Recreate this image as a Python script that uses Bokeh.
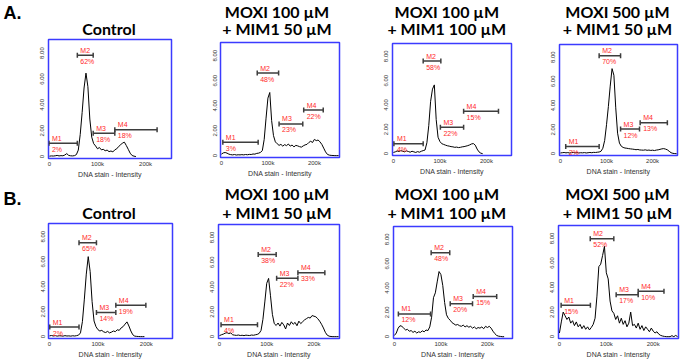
import numpy as np
from bokeh.plotting import figure
from bokeh.layouts import column, row
from bokeh.models import FixedTicker, Range1d, ColumnDataSource
from bokeh.embed import file_html
from bokeh.resources import INLINE
from bokeh.core.properties import value

N = None

# ---------------- data ----------------
BIN_K = [0, 4, 8, 12, 16, 20, 24, 28, 32, 36, 40, 44, 48, 52, 56, 60,
         64, 68, 72, 76, 80, 84, 88, 92, 96, 100, 104, 108, 112, 116, 120, 124,
         128, 132, 136, 140, 144, 148, 152, 156, 160, 164, 168, 172, 176, 180, 184, 188,
         192, 196, 200, 204, 208, 212, 216, 220, 224, 228, 232, 236, 240, 244, 248, 252]

X_TICKS = [0, 100000, 200000]
X_TICK_LABELS = ["0", "100k", "200k"]
Y_TICKS = [0, 2000, 4000, 6000, 8000]
Y_TICK_LABELS = ["0", "2.00", "4.00", "6.00", "8.00"]
X_LABEL = "DNA stain - Intensity"
GATE_NAMES = ["M1", "M2", "M3", "M4"]
ROW_LETTERS = ["A.", "B."]
TITLES = [["Control"],
          ["MOXI 100 µM", "+ MIM1 50 µM"],
          ["MOXI 100 µM", "+ MIM1 100 µM"],
          ["MOXI 500 µM", "+ MIM1 50 µM"]]

COUNTS_A1 = [30, 50, 40, 60, 90, 50, 70, 60,
             120, 230, 90, 60, 50, 70, 150, 500,
             1700, 3400, 5300, 6450, 5400, 2900, 1500, 1000,
             820, 600, 700, 520, 560, 450, 500, 380,
             430, 360, 520, 600, 780, 900, 1050, 1110,
             850, 560, 260, 80, 30, 0, N, N,
             N, N, N, N, N, N, N, N,
             N, N, N, N, N, N, N, N]
COUNTS_A2 = [120, 220, 250, 200, 120, 80, 60, 90,
             50, 70, 60, 80, 60, 90, 70, 100,
             90, 130, 120, 180, 200, 260, 400, 1300,
             3000, 4600, 5050, 2800, 1600, 1100, 950, 820,
             900, 760, 880, 800, 930, 760, 850, 700,
             820, 780, 720, 680, 780, 860, 900, 1050,
             1150, 1050, 1300, 1200, 1250, 1100, 900, 600,
             300, 100, 40, 20, 10, 0, 0, 0]
COUNTS_A3 = [100, 150, 220, 180, 250, 200, 150, 230,
             180, 120, 200, 150, 100, 170, 120, 200,
             250, 300, 900, 2300, 4300, 5300, 5650, 2800,
             1350, 1000, 820, 760, 700, 650, 620, 580,
             560, 520, 540, 500, 520, 560, 580, 620,
             660, 720, 800, 830, 700, 380, 150, 40,
             0, N, N, N, N, N, N, N,
             N, N, N, N, N, N, N, N]
COUNTS_A4 = [60, 80, 100, 70, 90, 60, 80, 100,
             70, 90, 60, 80, 70, 90, 60, 80,
             100, 80, 110, 100, 120, 140, 200, 450,
             1100, 2400, 3900, 5600, 7050, 6500, 3800, 1700,
             880, 620, 520, 470, 450, 420, 400, 380,
             360, 330, 350, 310, 300, 290, 320, 280,
             300, 270, 290, 260, 300, 320, 360, 400,
             420, 380, 320, 200, 80, 30, 10, 0]
COUNTS_B1 = [60, 90, 50, 80, 40, 70, 60, 40,
             80, 50, 60, 40, 70, 50, 80, 120,
             300, 1200, 3000, 5000, 6400, 5200, 2800, 1250,
             800, 560, 450, 500, 380, 330, 420, 300,
             360, 450, 400, 550, 500, 700, 800, 1000,
             1180, 850, 450, 150, 40, 20, 10, 0,
             0, 0, N, N, N, N, N, N,
             N, N, N, N, N, N, N, N]
COUNTS_B2 = [80, 150, 200, 280, 320, 250, 300, 150,
             120, 100, 130, 90, 110, 80, 120, 100,
             90, 130, 110, 150, 180, 260, 500, 1400,
             2800, 4300, 4700, 3300, 1800, 1050, 900, 1100,
             850, 1150, 950, 620, 1100, 900, 1200, 1000,
             1150, 880, 1250, 1050, 1200, 1350, 1450, 1550,
             1500, 1700, 1650, 1600, 1450, 1250, 1000, 700,
             350, 120, 40, 10, 0, 0, 0, 0]
COUNTS_B3 = [100, 300, 700, 900, 850, 700, 550, 600,
             450, 500, 350, 450, 300, 400, 350, 480,
             400, 550, 500, 800, 1600, 3200, 3600, 4500,
             5350, 5100, 4200, 2800, 1800, 1500, 1350, 1150,
             1050, 950, 1000, 900, 850, 950, 800, 900,
             780, 850, 700, 800, 650, 750, 700, 800,
             650, 850, 750, 850, 700, 450, 250, 100,
             40, 20, 0, 0, N, N, N, N]
COUNTS_B4 = [300, 1200, 2000, 1700, 1400, 1600, 1100, 1300,
             900, 1200, 800, 1000, 650, 900, 600, 800,
             550, 750, 1000, 1500, 3300, 5700, 5900, 6600,
             7350, 5200, 4700, 2900, 2100, 1900, 1400, 1700,
             1100, 1500, 1000, 1300, 800, 1100, 2000, 900,
             1000, 700, 1100, 600, 900, 500, 800, 600,
             400, 700, 450, 300, 400, 200, 100, 50,
             20, 0, 0, 0, 80, 0, 100, 0]

# gates: start / end (k units), level (counts), percentage
GATE_START_A1 = [-1, 58, 91, 136]
GATE_END_A1 = [58, 91, 136, 224]
GATE_LEVEL_A1 = [1030, 7830, 1810, 2070]
GATE_PCT_A1 = ["2%", "62%", "18%", "18%"]

GATE_START_A2 = [3, 77, 124, 177]
GATE_END_A2 = [79, 123, 175, 219]
GATE_LEVEL_A2 = [1080, 6610, 2540, 3650]
GATE_PCT_A2 = ["3%", "48%", "23%", "22%"]

GATE_START_A3 = [1, 64, 101, 151]
GATE_END_A3 = [64, 102, 151, 226]
GATE_LEVEL_A3 = [820, 7610, 2170, 3480]
GATE_PCT_A3 = ["4%", "58%", "22%", "15%"]

GATE_START_A4 = [11.5, 84, 130.5, 173]
GATE_END_A4 = [84, 130.5, 171.6, 232]
GATE_LEVEL_A4 = [600, 8110, 2040, 2560]
GATE_PCT_A4 = ["2%", "70%", "12%", "13%"]

GATE_START_B1 = [0.6, 61, 97, 137]
GATE_END_B1 = [61, 97, 137, 199]
GATE_LEVEL_B1 = [770, 7510, 1930, 2520]
GATE_PCT_B1 = ["2%", "65%", "14%", "19%"]

GATE_START_B2 = [3.4, 82, 121, 166]
GATE_END_B2 = [80.5, 120, 166, 223]
GATE_LEVEL_B2 = [960, 6630, 4710, 5160]
GATE_PCT_B2 = ["4%", "38%", "22%", "33%"]

GATE_START_B3 = [8.5, 79, 120, 169.5]
GATE_END_B3 = [77.7, 119, 168, 220]
GATE_LEVEL_B3 = [1870, 6900, 2700, 3300]
GATE_PCT_B3 = ["12%", "48%", "20%", "15%"]

GATE_START_B4 = [3.6, 65.7, 121, 168]
GATE_END_B4 = [66, 116, 168, 223]
GATE_LEVEL_B4 = [2550, 7970, 3410, 3700]
GATE_PCT_B4 = ["15%", "52%", "17%", "10%"]

PANELS = [
    [(COUNTS_A1, GATE_START_A1, GATE_END_A1, GATE_LEVEL_A1, GATE_PCT_A1),
     (COUNTS_A2, GATE_START_A2, GATE_END_A2, GATE_LEVEL_A2, GATE_PCT_A2),
     (COUNTS_A3, GATE_START_A3, GATE_END_A3, GATE_LEVEL_A3, GATE_PCT_A3),
     (COUNTS_A4, GATE_START_A4, GATE_END_A4, GATE_LEVEL_A4, GATE_PCT_A4)],
    [(COUNTS_B1, GATE_START_B1, GATE_END_B1, GATE_LEVEL_B1, GATE_PCT_B1),
     (COUNTS_B2, GATE_START_B2, GATE_END_B2, GATE_LEVEL_B2, GATE_PCT_B2),
     (COUNTS_B3, GATE_START_B3, GATE_END_B3, GATE_LEVEL_B3, GATE_PCT_B3),
     (COUNTS_B4, GATE_START_B4, GATE_END_B4, GATE_LEVEL_B4, GATE_PCT_B4)],
]

# ---------------- layout / style ----------------
COL_X = [0, 185, 355, 525]
COL_W = [185, 170, 170, 160]
ROW_Y = [0, 181]
ROW_H = [181, 179]
FRAMES = [[(48, 39, 171, 158), (220, 42, 339, 157), (392, 43, 511, 155), (559, 44, 677, 155)],
          [(48, 223, 172, 340), (218, 224, 339, 339), (393, 226, 512, 339), (558, 225, 678, 339)]]
TITLE_CX = [108.5, 276.5, 446.3, 617.0]
TITLE_MID = [[10.7, 28.3], [193.2, 211.8]]     # vertical centres of the title lines
LETTER_POS = [(3, 12.5), (3, 198.5)]

BLUE = "#3b3bff"
RED = "#ff2a2a"
GATE_COLOR = "#3d3d3d"
TICK_COLOR = "#333333"

rows = []
for ri in range(2):
    cols = []
    for ci in range(4):
        counts, gs, ge, gl, gp = PANELS[ri][ci]
        ox, oy, W, H = COL_X[ci], ROW_Y[ri], COL_W[ci], ROW_H[ri]
        l, t, r, b = FRAMES[ri][ci]
        HH = t - oy - 1

        # ---- title strip ----
        head = figure(width=W, height=HH, title=None,
                      x_range=Range1d(0, W), y_range=Range1d(HH, 0),
                      x_axis_type=None, y_axis_type=None,
                      output_backend="svg", toolbar_location=None,
                      min_border=0, outline_line_color=None, frame_align=False)
        head.xgrid.visible = False
        head.ygrid.visible = False
        head.background_fill_color = "white"
        head.border_fill_color = "white"
        lines = TITLES[ci]
        mids = TITLE_MID[ri][-len(lines):]
        head.text(x=[TITLE_CX[ci] - ox] * len(lines), y=[m - oy for m in mids], text=lines,
                  text_align="center", text_baseline="middle",
                  text_font=value("Lato"), text_font_style="bold", text_font_size="16px",
                  text_color="black")
        if ci == 0:
            lx, lm = LETTER_POS[ri]
            head.text(x=[lx - ox], y=[lm - oy], text=[ROW_LETTERS[ri]],
                      text_align="left", text_baseline="middle",
                      text_font=value("Liberation Sans"), text_font_style="bold",
                      text_font_size="18px", text_color="black")

        # ---- histogram panel ----
        PH = H - HH
        p = figure(width=W, height=PH, title=None,
                   x_range=Range1d(-2000, 254000), y_range=Range1d(-150, 9050),
                   output_backend="svg", toolbar_location=None, frame_align=False,
                   min_border_left=l - ox, min_border_right=ox + W - r,
                   min_border_top=t - oy - HH, min_border_bottom=oy + H - b)
        p.background_fill_color = "white"
        p.border_fill_color = "white"
        p.outline_line_color = BLUE
        p.outline_line_width = 1.5
        p.xgrid.visible = False
        p.ygrid.visible = False

        p.xaxis.ticker = FixedTicker(ticks=X_TICKS)
        p.xaxis.major_label_overrides = dict(zip(X_TICKS, X_TICK_LABELS))
        p.yaxis.ticker = FixedTicker(ticks=Y_TICKS)
        p.yaxis.major_label_overrides = dict(zip(Y_TICKS, Y_TICK_LABELS))
        for ax in (p.xaxis[0], p.yaxis[0]):
            ax.axis_line_color = None
            ax.major_tick_line_color = None
            ax.minor_tick_line_color = None
            ax.major_tick_out = 0
            ax.major_tick_in = 0
            ax.minor_tick_out = 0
            ax.minor_tick_in = 0
            ax.major_label_text_font = "Liberation Sans"
            ax.major_label_text_font_size = "6px"
            ax.major_label_text_color = TICK_COLOR
        p.xaxis.major_label_standoff = 2
        p.yaxis.major_label_standoff = 4
        p.yaxis.major_label_orientation = "vertical"
        p.xaxis.axis_label = X_LABEL
        p.xaxis.axis_label_text_font = "Liberation Sans"
        p.xaxis.axis_label_text_font_size = "7px"
        p.xaxis.axis_label_text_font_style = "normal"
        p.xaxis.axis_label_text_color = TICK_COLOR
        p.xaxis.axis_label_standoff = 1

        x = np.array(BIN_K, dtype=float) * 1000
        y = np.array(counts, dtype=float)
        p.line(x, y, line_color="black", line_width=1)

        src = ColumnDataSource(dict(
            x0=np.array(gs, dtype=float) * 1000,
            x1=np.array(ge, dtype=float) * 1000,
            y=gl, name=GATE_NAMES, pct=gp))
        p.segment(x0="x0", y0="y", x1="x1", y1="y", source=src,
                  line_color=GATE_COLOR, line_width=1.5)
        for col in ("x0", "x1"):
            p.scatter(x=col, y="y", source=src, marker="dash", size=5,
                      angle=np.pi / 2, line_color=GATE_COLOR, line_width=1.5)
        p.text(x="x0", y="y", text="name", source=src, x_offset=3, y_offset=-5,
               text_baseline="middle", text_align="left",
               text_font=value("Liberation Sans"), text_font_size="7px", text_color=RED)
        p.text(x="x0", y="y", text="pct", source=src, x_offset=3, y_offset=6,
               text_baseline="middle", text_align="left",
               text_font=value("Liberation Sans"), text_font_size="7px", text_color=RED)

        cols.append(column(head, p))
    rows.append(row(*cols))

layout = column(*rows)
open("out.html", "w").write(file_html(layout, INLINE))
